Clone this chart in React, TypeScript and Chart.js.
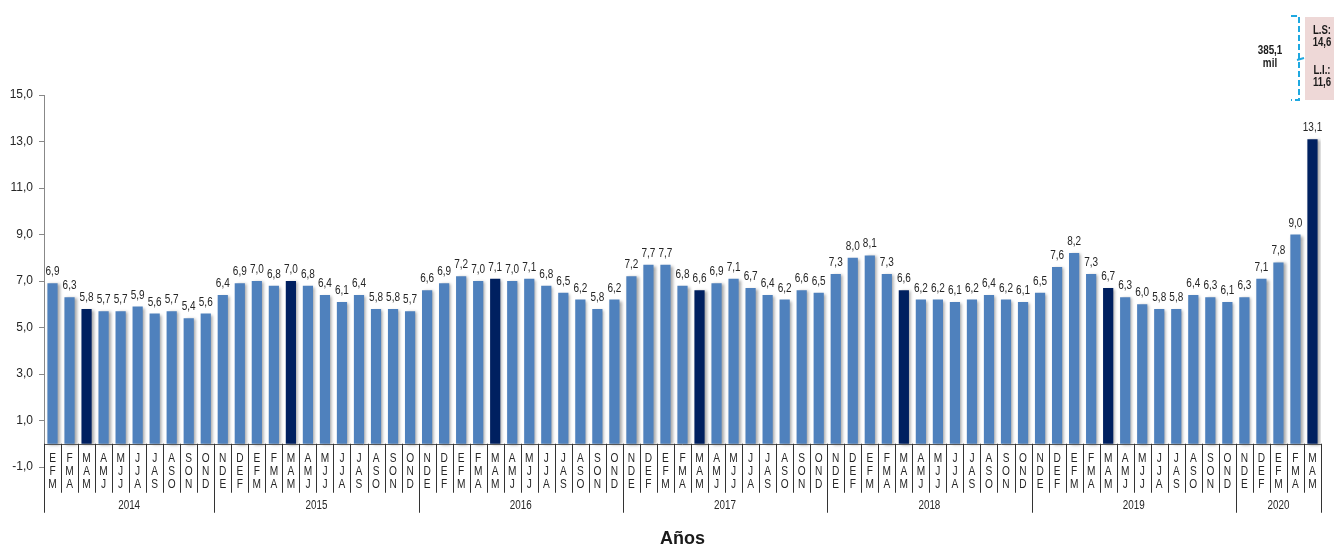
import React, { useEffect, useRef } from "react";
import { Chart, registerables } from "chart.js";

Chart.register(...registerables);

// ---- data ----
const categories: string[] = [
  // 2014
  "EFM", "FMA", "MAM", "AMJ", "MJJ", "JJA", "JAS", "ASO", "SON", "OND",
  // 2015
  "NDE", "DEF", "EFM", "FMA", "MAM", "AMJ", "MJJ", "JJA", "JAS", "ASO", "SON", "OND",
  // 2016
  "NDE", "DEF", "EFM", "FMA", "MAM", "AMJ", "MJJ", "JJA", "JAS", "ASO", "SON", "OND",
  // 2017
  "NDE", "DEF", "EFM", "FMA", "MAM", "AMJ", "MJJ", "JJA", "JAS", "ASO", "SON", "OND",
  // 2018
  "NDE", "DEF", "EFM", "FMA", "MAM", "AMJ", "MJJ", "JJA", "JAS", "ASO", "SON", "OND",
  // 2019
  "NDE", "DEF", "EFM", "FMA", "MAM", "AMJ", "MJJ", "JJA", "JAS", "ASO", "SON", "OND",
  // 2020
  "NDE", "DEF", "EFM", "FMA", "MAM",
];

const values: number[] = [
  6.9, 6.3, 5.8, 5.7, 5.7, 5.9, 5.6, 5.7, 5.4, 5.6,
  6.4, 6.9, 7.0, 6.8, 7.0, 6.8, 6.4, 6.1, 6.4, 5.8, 5.8, 5.7,
  6.6, 6.9, 7.2, 7.0, 7.1, 7.0, 7.1, 6.8, 6.5, 6.2, 5.8, 6.2,
  7.2, 7.7, 7.7, 6.8, 6.6, 6.9, 7.1, 6.7, 6.4, 6.2, 6.6, 6.5,
  7.3, 8.0, 8.1, 7.3, 6.6, 6.2, 6.2, 6.1, 6.2, 6.4, 6.2, 6.1,
  6.5, 7.6, 8.2, 7.3, 6.7, 6.3, 6.0, 5.8, 5.8, 6.4, 6.3, 6.1,
  6.3, 7.1, 7.8, 9.0, 13.1,
];

const yearLabels: string[] = ["2014", "2015", "2016", "2017", "2018", "2019", "2020"];
const yearSizes: number[] = [10, 12, 12, 12, 12, 12, 5];

const highlightCategory = "MAM";
const yMin = -1;
const yMax = 15;
const yStep = 2;

const axisTitle = "Años";
const noteTotal: string[] = ["385,1", "mil"];
const noteUpper: string[] = ["L.S:", "14,6"];
const noteLower: string[] = ["L.I.:", "11,6"];

// ---- styles ----
const LIGHT = "#4F81BD";
const DARK = "#002060";
const TEXT = "#262626";
const REGULAR = '"Liberation Sans", Arial, sans-serif';

const fmt = (v: number) => v.toFixed(1).replace(".", ",");

function narrowText(ctx: CanvasRenderingContext2D, text: string, x: number, y: number, k = 0.8) {
  ctx.save();
  ctx.translate(x, y);
  ctx.scale(k, 1);
  ctx.fillText(text, 0, 0);
  ctx.restore();
}

const shadowPlugin = {
  id: "barShadow",
  beforeDatasetsDraw(chart: any) {
    const ctx = chart.ctx;
    ctx.save();
    ctx.shadowColor = "rgba(0,0,0,0.35)";
    ctx.shadowBlur = 3;
    ctx.shadowOffsetX = 2;
    ctx.shadowOffsetY = 1;
  },
  afterDatasetsDraw(chart: any) {
    chart.ctx.restore();
  },
};

const decorPlugin = {
  id: "decor",
  afterDraw(chart: any) {
    const ctx: CanvasRenderingContext2D = chart.ctx;
    const xs = chart.scales.x;
    const ys = chart.scales.y;
    const area = chart.chartArea;
    const y0 = ys.getPixelForValue(0);
    const n = categories.length;

    ctx.save();
    // value labels
    const meta = chart.getDatasetMeta(0);
    ctx.fillStyle = TEXT;
    ctx.font = `12.5px ${REGULAR}`;
    ctx.textAlign = "center";
    ctx.textBaseline = "alphabetic";
    meta.data.forEach((bar: any, i: number) => {
      narrowText(ctx, fmt(values[i]), bar.x, bar.y - 8, 0.8);
    });

    // category axis line
    ctx.strokeStyle = "#555";
    ctx.lineWidth = 1;
    ctx.beginPath();
    ctx.moveTo(area.left, Math.round(y0) + 0.5);
    ctx.lineTo(area.right, Math.round(y0) + 0.5);
    ctx.stroke();

    // separators
    const sepX = (i: number) => {
      if (i <= 0) return area.left;
      if (i >= n) return area.right;
      return (xs.getPixelForValue(i - 1) + xs.getPixelForValue(i)) / 2;
    };
    const yearBounds = new Set<number>();
    let acc = 0;
    yearBounds.add(0);
    yearSizes.forEach((s) => {
      acc += s;
      yearBounds.add(acc);
    });
    ctx.strokeStyle = "#333";
    for (let i = 0; i <= n; i++) {
      const x = Math.round(sepX(i)) + 0.5;
      const bottom = yearBounds.has(i) ? y0 + 69 : y0 + 49;
      ctx.beginPath();
      ctx.moveTo(x, y0);
      ctx.lineTo(x, bottom);
      ctx.stroke();
    }

    // category letters
    ctx.fillStyle = TEXT;
    ctx.font = `13px ${REGULAR}`;
    ctx.textBaseline = "middle";
    categories.forEach((c, i) => {
      const x = xs.getPixelForValue(i);
      c.split("").forEach((ch, k) => {
        narrowText(ctx, ch, x, y0 + 15 + k * 13, 0.78);
      });
    });

    // year labels
    ctx.font = `12px ${REGULAR}`;
    let start = 0;
    yearLabels.forEach((yl, k) => {
      const end = start + yearSizes[k];
      const x = (sepX(start) + sepX(end)) / 2;
      narrowText(ctx, yl, x, y0 + 62, 0.82);
      start = end;
    });

    // axis title
    ctx.font = `bold 18px ${REGULAR}`;
    ctx.fillStyle = "#1a1a1a";
    ctx.fillText(axisTitle, (area.left + area.right) / 2, 539);

    // top-right note
    const bx = 1299;
    const top = 16;
    const bot = 100;
    const mid = 58;
    ctx.fillStyle = "#EED8D7";
    ctx.fillRect(1305, 17, 29, 83);

    ctx.strokeStyle = "#1FA8E0";
    ctx.lineWidth = 2;
    ctx.setLineDash([6, 3]);
    ctx.beginPath();
    ctx.moveTo(1291, top);
    ctx.lineTo(bx, top);
    ctx.lineTo(bx, bot);
    ctx.lineTo(1291, bot);
    ctx.stroke();
    ctx.setLineDash([]);
    ctx.beginPath();
    ctx.moveTo(bx - 2, mid + 2);
    ctx.lineTo(bx + 5, mid);
    ctx.stroke();

    ctx.fillStyle = "#1a1a1a";
    ctx.font = `bold 13px ${REGULAR}`;
    narrowText(ctx, noteTotal[0], 1270, 50, 0.76);
    narrowText(ctx, noteTotal[1], 1270, 63, 0.76);
    ctx.font = `bold 12px ${REGULAR}`;
    narrowText(ctx, noteUpper[0], 1322, 31, 0.8);
    narrowText(ctx, noteUpper[1], 1322, 43, 0.8);
    narrowText(ctx, noteLower[0], 1322, 71, 0.8);
    narrowText(ctx, noteLower[1], 1322, 83, 0.8);

    ctx.restore();
  },
};

export default function App() {
  const ref = useRef<HTMLCanvasElement | null>(null);

  useEffect(() => {
    if (!ref.current) return;
    const chart = new Chart(ref.current, {
      type: "bar",
      data: {
        labels: categories,
        datasets: [
          {
            data: values,
            backgroundColor: categories.map((c) => (c === highlightCategory ? DARK : LIGHT)),
            borderWidth: 0,
            barPercentage: 0.6,
            categoryPercentage: 1,
          },
        ],
      },
      options: {
        animation: false,
        responsive: false,
        maintainAspectRatio: false,
        layout: { padding: { left: 0, right: 13, top: 95, bottom: 80 } },
        plugins: {
          legend: { display: false },
          tooltip: { enabled: false },
        },
        scales: {
          x: {
            display: false,
            offset: true,
          },
          y: {
            min: yMin,
            max: yMax,
            afterFit: (scale: any) => {
              scale.width = 44;
            },
            ticks: {
              stepSize: yStep,
              padding: 6,
              color: TEXT,
              font: { family: REGULAR, size: 12 },
              callback: (v: any) => fmt(Number(v)),
            },
            grid: {
              drawOnChartArea: false,
              drawTicks: true,
              tickLength: 5,
              color: "#888",
            },
            border: { display: true, color: "#888" },
          },
        },
      },
      plugins: [shadowPlugin, decorPlugin],
    });
    return () => chart.destroy();
  }, []);

  return (
    <div style={{ position: "absolute", left: 0, top: 0, width: 1334, height: 547, background: "#fff" }}>
      <canvas ref={ref} width={1334} height={547} style={{ display: "block" }} />
    </div>
  );
}
